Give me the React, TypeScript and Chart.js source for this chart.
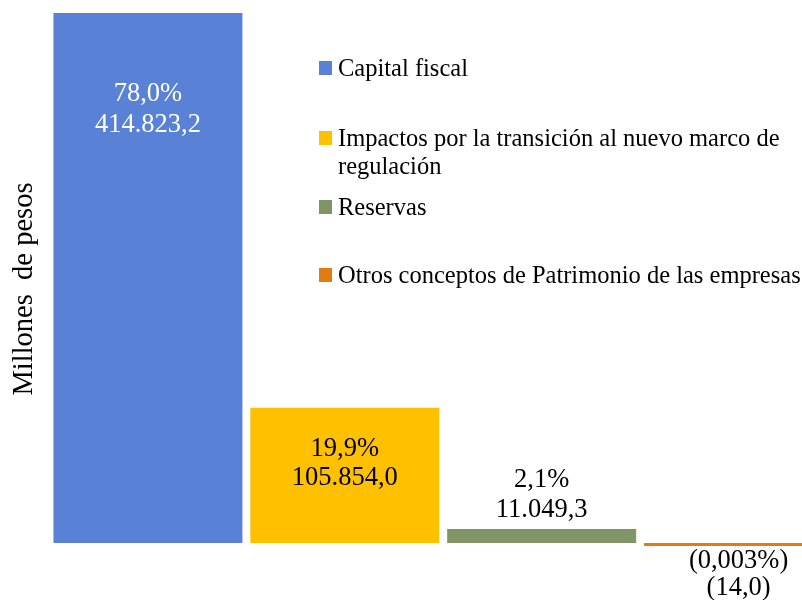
import React, { useEffect, useRef } from "react";
import { Chart, registerables } from "chart.js";

Chart.register(...registerables);

const categories = [
  "Capital fiscal",
  "Impactos por la transición al nuevo marco de regulación",
  "Reservas",
  "Otros conceptos de Patrimonio de las empresas",
];
const legendLines = [
  ["Capital fiscal"],
  ["Impactos por la transición al nuevo marco de", "regulación"],
  ["Reservas"],
  ["Otros conceptos de Patrimonio de las empresas"],
];
const values = [414823.2, 105854.0, 11049.3, -14.0];
const percentLabels = ["78,0%", "19,9%", "2,1%", "(0,003%)"];
const valueLabels = ["414.823,2", "105.854,0", "11.049,3", "(14,0)"];
const colors = ["#5982D6", "#FFC000", "#7F9566", "#E27C12"];
const labelColors = ["#FFFFFF", "#000000", "#000000", "#000000"];
const axisTitle = "Millones  de pesos";

// label placement (style): anchor edge of bar, offset to first line centre, line gap
const labelPlacement = [
  { anchor: "top", dy: 81, gap: 31 },
  { anchor: "top", dy: 41, gap: 29 },
  { anchor: "top", dy: -49, gap: 30 },
  { anchor: "bottom", dy: 15, gap: 27 },
];
const legendRowBaselines = [76, 146, 215, 283];

const SERIF = '"Liberation Serif", "Times New Roman", serif';

const overlayPlugin = {
  id: "overlay",
  afterDatasetsDraw(chart: any) {
    const ctx = chart.ctx;
    const meta = chart.getDatasetMeta(0);
    ctx.save();
    // data labels
    ctx.font = `26.5px ${SERIF}`;
    ctx.textAlign = "center";
    ctx.textBaseline = "middle";
    meta.data.forEach((bar: any, i: number) => {
      const p = labelPlacement[i];
      const top = Math.min(bar.y, bar.base);
      const bottom = Math.max(bar.y, bar.base);
      const y0 = (p.anchor === "top" ? top : bottom) + p.dy;
      ctx.fillStyle = labelColors[i];
      ctx.fillText(percentLabels[i], bar.x, y0);
      ctx.fillText(valueLabels[i], bar.x, y0 + p.gap);
    });
    // legend
    ctx.font = `24.5px ${SERIF}`;
    ctx.textAlign = "left";
    ctx.textBaseline = "alphabetic";
    legendLines.forEach((lines, i) => {
      const base = legendRowBaselines[i];
      ctx.fillStyle = colors[i];
      ctx.fillRect(319, base - 15, 13, 14);
      ctx.fillStyle = "#000000";
      lines.forEach((t, j) => ctx.fillText(t, 338, base + j * 27.5));
    });
    // axis title
    ctx.translate(25, 289);
    ctx.rotate(-Math.PI / 2);
    ctx.font = `28.5px ${SERIF}`;
    ctx.textAlign = "center";
    ctx.textBaseline = "middle";
    ctx.fillStyle = "#000000";
    ctx.fillText(axisTitle, 0, 0);
    ctx.restore();
  },
};

export default function App() {
  const ref = useRef<HTMLCanvasElement>(null);
  useEffect(() => {
    if (!ref.current) return;
    const chart = new Chart(ref.current, {
      type: "bar",
      data: {
        labels: categories,
        datasets: [
          {
            data: values,
            backgroundColor: colors,
            borderWidth: 0,
            barPercentage: 0.96,
            categoryPercentage: 1,
            minBarLength: 3,
            clip: false as any,
          },
        ],
      },
      options: {
        animation: false,
        responsive: false,
        maintainAspectRatio: false,
        layout: { padding: { left: 49.5, right: 1, top: 13, bottom: 57 } },
        plugins: { legend: { display: false }, tooltip: { enabled: false } },
        scales: {
          x: { display: false },
          y: { display: false, min: 0, max: 414823.2 },
        },
      },
      plugins: [overlayPlugin],
    });
    return () => chart.destroy();
  }, []);
  return (
    <div
      style={{
        position: "fixed",
        left: 0,
        top: 0,
        width: 802,
        height: 600,
        overflow: "hidden",
        background: "#ffffff",
      }}
    >
      <canvas ref={ref} width={838} height={600} style={{ display: "block" }} />
    </div>
  );
}
